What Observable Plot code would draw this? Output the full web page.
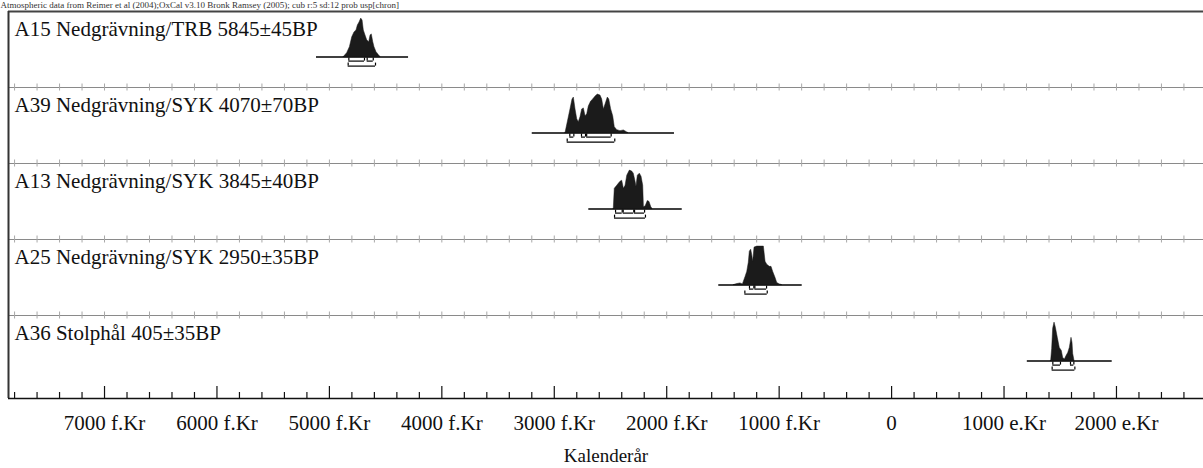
<!DOCTYPE html>
<html><head><meta charset="utf-8">
<script src="https://cdn.jsdelivr.net/npm/d3@7"></script>
<script src="https://cdn.jsdelivr.net/npm/@observablehq/plot@0.6"></script>
<style>body{margin:0;background:#fff}</style>
</head><body><div id="chart"></div>
<script>
// ---------- data ----------
const header = "Atmospheric data from Reimer et al (2004);OxCal v3.10 Bronk Ramsey (2005); cub r:5 sd:12 prob usp[chron]";
const sampleLabels = [
  "A15 Nedgrävning/TRB 5845±45BP",
  "A39 Nedgrävning/SYK 4070±70BP",
  "A13 Nedgrävning/SYK 3845±40BP",
  "A25 Nedgrävning/SYK 2950±35BP",
  "A36 Stolphål 405±35BP"
];
const rangeFrom = [-5115, -3196, -2693, -1537, 1207];
const rangeTo   = [-4296, -1931, -1862, -795, 1962];

const yearsA15 = [-4872,-4842,-4818,-4797,-4777,-4759,-4747,-4732,-4717,-4705,-4694,-4679,-4664,-4646,-4634,-4623,-4610,-4599,-4581,-4560,-4545];
const probA15  = [0,4,10,20,25,27,32,35,39,37,27,22,17,15,22,23,15,10,5,2,0];

const yearsA39 = [-2900,-2856,-2838,-2826,-2811,-2796,-2782,-2767,-2752,-2737,-2722,-2707,-2693,-2672,-2654,-2633,-2613,-2589,-2574,-2559,-2544,-2524,-2511,-2494,-2476,-2462,-2440,-2411,-2381,-2351,-2340];
const probA39  = [0,24,34,36,24,14,11,16,24,25,17,19,27,32,34,37,39,38,34,24,29,36,34,24,17,6,3,2,2.7,0.7,0];

const yearsA13 = [-2471,-2462,-2440,-2426,-2411,-2396,-2381,-2366,-2351,-2328,-2307,-2293,-2277,-2269,-2257,-2239,-2224,-2209,-2203,-2197,-2186,-2168,-2153,-2138,-2126];
const probA13  = [0,20,23,25,27,28,20,23,33,38,37,35,27,22,33,35,32,23,2,2,3,8,7,2,0];

const yearsA25 = [-1403,-1373,-1344,-1323,-1314,-1299,-1284,-1270,-1261,-1249,-1240,-1231,-1219,-1195,-1166,-1136,-1121,-1106,-1083,-1068,-1053,-1032,-1017,-994,-973];
const probA25  = [0,1,1.7,0.7,3.3,8,13,22,33,35,30,23,37,38,38,38,23,20,18,18,13,7,2,0.7,0];

const yearsA36 = [1419,1428,1437,1449,1461,1478,1496,1514,1526,1541,1556,1571,1585,1600,1609,1615,1627];
const probA36  = [0,12,32,38,33,23,13,10,3,1.7,5,8,13,23,18,7,0];

const sigma1 = [
  [[-4827,-4688],[-4664,-4610]],
  [[-2862,-2826],[-2758,-2722],[-2712,-2494]],
  [[-2455,-2396],[-2387,-2293],[-2286,-2197]],
  [[-1264,-1225],[-1216,-1112]],
  [[1434,1502],[1591,1621]]
];
const sigma2 = [[-4833,-4590],[-2885,-2462],[-2464,-2189],[-1305,-1106],[1428,1630]];

const axisTickValues = [-7000,-6000,-5000,-4000,-3000,-2000,-1000,0,1000,2000];
const axisTickLabels = ["7000 f.Kr","6000 f.Kr","5000 f.Kr","4000 f.Kr","3000 f.Kr","2000 f.Kr","1000 f.Kr","0","1000 e.Kr","2000 e.Kr"];
const axisTitle = "Kalenderår";

// ---------- layout ----------
const PANEL = 76;                 // px per panel
const px = v => v / PANEL;        // px -> y units
const YMAX = 387 / PANEL;
const BASE = 45.6 / PANEL;
const PEAK = 38.5 / PANEL;
const XDOM = [-7854, 2774];
const serif = "'Liberation Serif','Times New Roman',Times,serif";

const series = [[yearsA15,probA15],[yearsA39,probA39],[yearsA13,probA13],[yearsA25,probA25],[yearsA36,probA36]];
const rows = [];
series.forEach(([ys, ps], i) => {
  const m = d3.max(ps);
  ys.forEach((y, j) => rows.push({panel: i, year: y, base: i + BASE, top: i + BASE - ps[j] / m * PEAK}));
});
const ranges = sampleLabels.map((s, i) => ({from: rangeFrom[i], to: rangeTo[i], base: i + BASE}));
const segs = [];
sigma1.forEach((list, i) => list.forEach(([a, b]) => segs.push({a, b, y: i + BASE + px(4)})));
sigma2.forEach(([a, b], i) => segs.push({a, b, y: i + BASE + px(9)}));
const ends = segs.flatMap(s => [{x: s.a, y: s.y}, {x: s.b, y: s.y}]);

const sepRows = [1, 2, 3, 4];
const gridYears = d3.range(-7800, 2601, 200);
const sepTicks = sepRows.flatMap(r => gridYears.map(x => ({x, row: r})));
const axisTicks = gridYears.map(x => ({x, major: x % 1000 === 0}));

const chart = Plot.plot({
  width: 1203, height: 468,
  marginLeft: 8, marginRight: 0, marginTop: 11, marginBottom: 70,
  x: {domain: XDOM, axis: null},
  y: {domain: [0, YMAX], reverse: true, axis: null},
  style: {fontFamily: serif, background: "#fff", color: "#111"},
  marks: [
    Plot.ruleY(sepRows, {y: d => d, stroke: "#8a8a8a", strokeWidth: 1}),
    Plot.ruleX(sepTicks, {x: "x", y1: d => d.row - px(3.5), y2: d => d.row + px(3.5), stroke: "#a8a8a8", strokeWidth: 1}),
    Plot.ruleY([0], {stroke: "#444", strokeWidth: 2}),
    Plot.ruleX([XDOM[0]], {stroke: "#333", strokeWidth: 2}),
    Plot.ruleY([YMAX], {stroke: "#111", strokeWidth: 1.5}),
    Plot.ruleX(axisTicks, {x: "x", y1: YMAX, y2: d => YMAX - px(d.major ? 12 : 6), stroke: "#111", strokeWidth: 1.2}),
    Plot.area(rows, {x1: "year", y1: "base", y2: "top", z: "panel", fill: "#1b1b1b", stroke: "#1b1b1b", strokeWidth: 0.5}),
    Plot.ruleY(ranges, {y: "base", x1: "from", x2: "to", stroke: "#000", strokeWidth: 1.5}),
    Plot.ruleY(segs, {y: "y", x1: "a", x2: "b", stroke: "#000", strokeWidth: 1.2}),
    Plot.ruleX(ends, {x: "x", y1: "y", y2: d => d.y - px(3), stroke: "#000", strokeWidth: 1.2}),
    Plot.text(sampleLabels, {x: XDOM[0], y: (d, i) => i + px(24), text: d => d, dx: 6, textAnchor: "start", lineAnchor: "bottom", fontSize: 21, fill: "#111"}),
    Plot.text(axisTickValues, {x: d => d, y: YMAX, text: (d, i) => axisTickLabels[i], dy: 25, lineAnchor: "middle", fontSize: 21, fill: "#111"}),
    Plot.text([axisTitle], {frameAnchor: "bottom", text: d => d, dy: 57, lineAnchor: "middle", fontSize: 19, fill: "#111"}),
    Plot.text([header], {frameAnchor: "top-left", text: d => d, dx: -8, dy: -4, lineAnchor: "bottom", textAnchor: "start", fontSize: 9, fill: "#333"})
  ]
});
document.getElementById("chart").append(chart);
</script>
</body></html>
